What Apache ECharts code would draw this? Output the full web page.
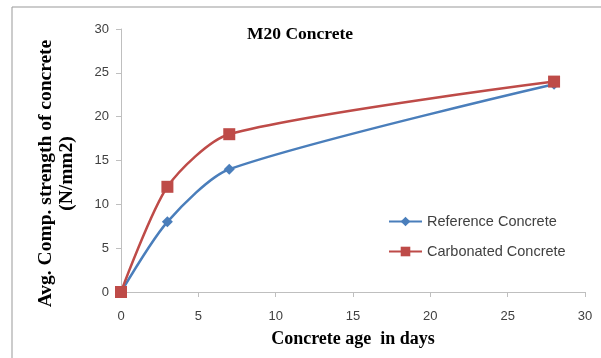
<!DOCTYPE html>
<html>
<head>
<meta charset="utf-8">
<script src="https://cdn.jsdelivr.net/npm/echarts@6/dist/echarts.min.js"></script>
<style>
  html, body { margin: 0; padding: 0; background: #fff; }
  #main { width: 601px; height: 358px; }
</style>
</head>
<body>
<div id="main"></div>
<script>
// 龄期 (days) and strength values
var ageDays = [0, 3, 7, 28];
var referenceStrength = [0, 8, 14, 23.7];
var carbonatedStrength = [0, 12, 18, 24];
var seriesNames = ['Reference Concrete', 'Carbonated Concrete'];

function toPairs(xs, ys) {
    var arr = [];
    for (var i = 0; i < xs.length; i++) {
        arr.push([xs[i], ys[i]]);
    }
    return arr;
}

var myChart = echarts.init(document.getElementById('main'));
var tickFont = { fontFamily: 'Liberation Sans', fontSize: 13, color: '#404040' };

var option = {
    backgroundColor: '#fff',
    animation: false,
    title: {
        text: 'M20 Concrete',
        left: 242,
        top: 20,
        textStyle: { fontFamily: 'Liberation Serif', fontSize: 17.5, fontWeight: 'bold', color: '#000' }
    },
    graphic: [
        {
            type: 'rect',
            shape: { x: 12, y: 7, width: 600, height: 400 },
            style: { fill: 'none', stroke: '#999', lineWidth: 1 }
        }
    ],
    legend: {
        data: seriesNames,
        orient: 'vertical',
        left: 383,
        top: 209,
        itemGap: 15,
        itemWidth: 33,
        itemHeight: 12,
        textStyle: { fontFamily: 'Liberation Sans', fontSize: 14.5, color: '#404040' }
    },
    grid: {
        left: 121,
        right: 16,
        top: 29,
        bottom: 66,
        containLabel: false,
        outerBoundsMode: 'none'
    },
    xAxis: {
        type: 'value',
        min: 0,
        max: 30,
        interval: 5,
        name: 'Concrete age  in days',
        nameLocation: 'middle',
        nameGap: 38,
        nameTextStyle: { fontFamily: 'Liberation Serif', fontSize: 18, fontWeight: 'bold', color: '#000' },
        axisLine: { lineStyle: { color: '#bfbfbf' } },
        axisTick: { show: true, length: 5, lineStyle: { color: '#bfbfbf' } },
        axisLabel: { fontFamily: tickFont.fontFamily, fontSize: tickFont.fontSize, color: tickFont.color, margin: 18 },
        splitLine: { show: false }
    },
    yAxis: {
        type: 'value',
        min: 0,
        max: 30,
        interval: 5,
        name: 'Avg. Comp. strength of concrete\n(N/mm2)',
        nameLocation: 'middle',
        nameGap: 44,
        nameTextStyle: {
            fontFamily: 'Liberation Serif', fontSize: 19.5, fontWeight: 'bold', color: '#000',
            lineHeight: 21, padding: [0, 26, 0, 0]
        },
        axisLine: { show: true, lineStyle: { color: '#bfbfbf' } },
        axisTick: { show: true, length: 5, lineStyle: { color: '#bfbfbf' } },
        axisLabel: { fontFamily: tickFont.fontFamily, fontSize: tickFont.fontSize, color: tickFont.color, margin: 12 },
        splitLine: { show: false }
    },
    series: [
        {
            name: seriesNames[0],
            type: 'line',
            smooth: 0.25,
            data: toPairs(ageDays, referenceStrength),
            symbol: 'diamond',
            symbolSize: 11,
            lineStyle: { color: '#4a7ebb', width: 2.5 },
            itemStyle: { color: '#4a7ebb' }
        },
        {
            name: seriesNames[1],
            type: 'line',
            smooth: 0.25,
            data: toPairs(ageDays, carbonatedStrength),
            symbol: 'rect',
            symbolSize: 12,
            lineStyle: { color: '#be4b48', width: 2.5 },
            itemStyle: { color: '#be4b48' }
        }
    ]
};
myChart.setOption(option);
</script>
</body>
</html>
